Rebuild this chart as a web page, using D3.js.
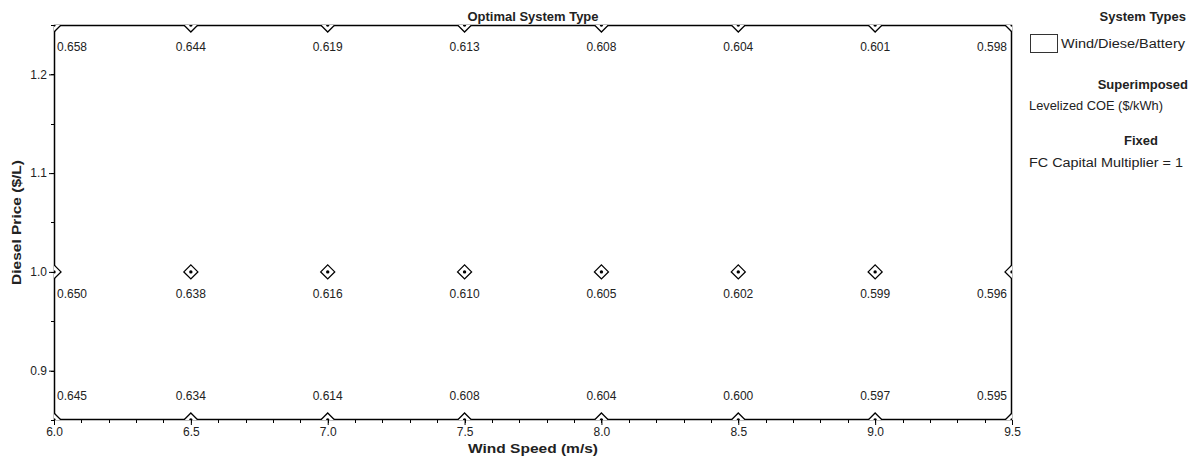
<!DOCTYPE html>
<html>
<head>
<meta charset="utf-8">
<script src="https://cdn.jsdelivr.net/npm/d3@7"></script>
<style>
body { margin: 0; background: #fff; }
text { font-family: "Liberation Sans", Arial, sans-serif; fill: #222; }
</style>
</head>
<body>
<div id="chart"></div>
<script>
const w = 1194;
const h = 459;
const margin = {left: 54, right: 182, top: 25, bottom: 39};

// grid of wind speed x diesel price
const windSpeeds = [6.0, 6.5, 7.0, 7.5, 8.0, 8.5, 9.0, 9.5];
const dieselPrices = [1.25, 1.0, 0.85];
const coeHigh = [0.658, 0.644, 0.619, 0.613, 0.608, 0.604, 0.601, 0.598];
const coeMid = [0.650, 0.638, 0.616, 0.610, 0.605, 0.602, 0.599, 0.596];
const coeLow = [0.645, 0.634, 0.614, 0.608, 0.604, 0.600, 0.597, 0.595];
const coeRows = [coeHigh, coeMid, coeLow];
const xTicks = [6.0, 6.5, 7.0, 7.5, 8.0, 8.5, 9.0, 9.5];
const yTicks = [0.9, 1.0, 1.1, 1.2];

let svg = d3.select("#chart").append("svg")
    .attr("width", w)
    .attr("height", h);

let xScale = d3.scaleLinear()
    .domain([6.0, 9.5])
    .range([margin.left, w - margin.right]);

let yScale = d3.scaleLinear()
    .domain([0.85, 1.25])
    .range([h - margin.bottom, margin.top]);

let pw = w - margin.right - margin.left;
let ph = h - margin.bottom - margin.top;

svg.append("clipPath").attr("id", "plotclip")
    .append("rect")
    .attr("x", margin.left).attr("y", margin.top)
    .attr("width", pw).attr("height", ph);

// minor ticks
let minorX = d3.range(6.0, 9.5001, 0.1).map(d => Math.round(d * 10) / 10);
svg.append("g").selectAll("line").data(minorX).enter().append("line")
    .attr("x1", d => Math.round(xScale(d)) + 0.5).attr("x2", d => Math.round(xScale(d)) + 0.5)
    .attr("y1", h - margin.bottom).attr("y2", h - margin.bottom + 3)
    .attr("stroke", "#000");
let minorY = d3.range(0.85, 1.2501, 0.05).map(d => Math.round(d * 100) / 100);
svg.append("g").selectAll("line").data(minorY).enter().append("line")
    .attr("x1", margin.left - 3).attr("x2", margin.left)
    .attr("y1", d => Math.round(yScale(d)) + 0.5).attr("y2", d => Math.round(yScale(d)) + 0.5)
    .attr("stroke", "#000");

let xAxis = svg.append("g")
    .attr("transform", "translate(0," + (h - margin.bottom) + ")")
    .call(d3.axisBottom(xScale).tickValues(xTicks).tickFormat(d3.format(".1f")).tickSize(5).tickSizeOuter(0));
let yAxis = svg.append("g")
    .attr("transform", "translate(" + margin.left + ",0)")
    .call(d3.axisLeft(yScale).tickValues(yTicks).tickFormat(d3.format(".1f")).tickSize(5).tickSizeOuter(0));

[xAxis, yAxis].forEach(a => {
    a.select(".domain").remove();
    a.selectAll("text").style("font-size", "12px").style("font-family", "Liberation Sans, Arial, sans-serif").attr("fill", "#222");
    a.selectAll("line").attr("stroke", "#000");
});
xAxis.selectAll("text").attr("dy", "0.9em").attr("y", 5);
yAxis.selectAll("text").attr("x", -7);

// frame
svg.append("rect")
    .attr("x", margin.left + 0.5).attr("y", margin.top + 0.5)
    .attr("width", pw - 1).attr("height", ph - 1)
    .attr("fill", "none").attr("stroke", "#000").attr("stroke-width", 1.5);

// points
let pts = [];
dieselPrices.forEach((p, r) => {
    windSpeeds.forEach((s, c) => {
        pts.push({s: s, p: p, v: coeRows[r][c], r: r, c: c});
    });
});

let markers = svg.append("g").attr("clip-path", "url(#plotclip)");
markers.selectAll("path").data(pts).enter().append("path")
    .attr("d", d => {
        let x = xScale(d.s), y = yScale(d.p), k = 7;
        return "M" + x + "," + (y - k) + "L" + (x + k) + "," + y + "L" + x + "," + (y + k) + "L" + (x - k) + "," + y + "Z";
    })
    .attr("fill", "#fff").attr("stroke", "#000").attr("stroke-width", 1.3);
markers.selectAll("circle").data(pts).enter().append("circle")
    .attr("cx", d => xScale(d.s)).attr("cy", d => yScale(d.p))
    .attr("r", 1.7).attr("fill", "#000");

svg.append("g").selectAll("text").data(pts).enter().append("text")
    .attr("x", d => d.c === 0 ? xScale(d.s) + 3 : d.c === windSpeeds.length - 1 ? xScale(d.s) - 5 : xScale(d.s))
    .attr("y", d => d.r === 2 ? yScale(d.p) - 20 : yScale(d.p) + 26)
    .attr("text-anchor", d => d.c === 0 ? "start" : d.c === windSpeeds.length - 1 ? "end" : "middle")
    .style("font-size", "12px")
    .text(d => d.v.toFixed(3));

// titles
svg.append("text")
    .attr("x", 533).attr("y", 21)
    .attr("text-anchor", "middle")
    .attr("textLength", 131).attr("lengthAdjust", "spacingAndGlyphs")
    .style("font-size", "13px").style("font-weight", "bold")
    .text("Optimal System Type");

svg.append("text")
    .attr("x", xScale(7.75)).attr("y", 453)
    .attr("text-anchor", "middle")
    .attr("textLength", 130).attr("lengthAdjust", "spacingAndGlyphs")
    .style("font-size", "13px").style("font-weight", "bold")
    .text("Wind Speed (m/s)");

svg.append("text")
    .attr("transform", "translate(21," + (margin.top + ph / 2) + ") rotate(-90)")
    .attr("text-anchor", "middle")
    .attr("textLength", 125).attr("lengthAdjust", "spacingAndGlyphs")
    .style("font-size", "13px").style("font-weight", "bold")
    .text("Diesel Price ($/L)");

// legend
let lg = svg.append("g");
lg.append("text").attr("x", 1186).attr("y", 21).attr("text-anchor", "end")
    .style("font-size", "13px").style("font-weight", "bold").text("System Types");
lg.append("rect").attr("x", 1030.5).attr("y", 34.5).attr("width", 27).attr("height", 18)
    .attr("fill", "#fff").attr("stroke", "#333");
lg.append("text").attr("x", 1061).attr("y", 48)
    .attr("textLength", 124).attr("lengthAdjust", "spacingAndGlyphs")
    .style("font-size", "12px").text("Wind/Diese/Battery");
lg.append("text").attr("x", 1188).attr("y", 89).attr("text-anchor", "end")
    .style("font-size", "13px").style("font-weight", "bold").text("Superimposed");
lg.append("text").attr("x", 1029).attr("y", 110)
    .attr("textLength", 134).attr("lengthAdjust", "spacingAndGlyphs")
    .style("font-size", "12px").text("Levelized COE ($/kWh)");
lg.append("text").attr("x", 1158).attr("y", 145).attr("text-anchor", "end")
    .style("font-size", "13px").style("font-weight", "bold").text("Fixed");
lg.append("text").attr("x", 1029).attr("y", 167)
    .attr("textLength", 154).attr("lengthAdjust", "spacingAndGlyphs")
    .style("font-size", "12px").text("FC Capital Multiplier = 1");
</script>
</body>
</html>
